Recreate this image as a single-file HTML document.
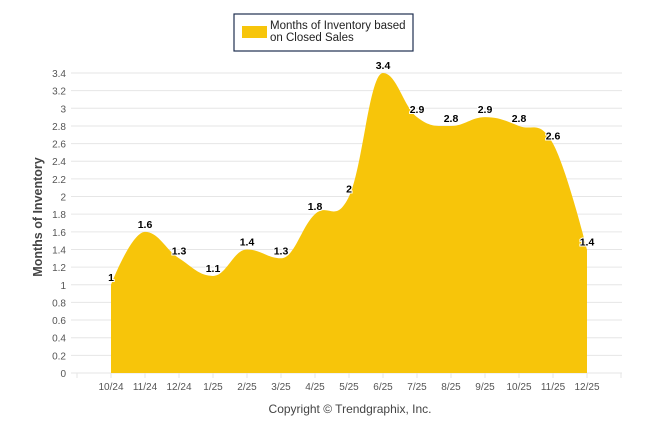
<!DOCTYPE html>
<html><head><meta charset="utf-8"><style>
body{margin:0;background:#fff;width:646px;height:434px;overflow:hidden;font-family:"Liberation Sans",sans-serif}
</style></head><body>
<svg width="646" height="434" id="c" font-family="Liberation Sans, sans-serif">
<rect x="234" y="14" width="179" height="37" fill="#fff" stroke="#1f2f4f" stroke-width="1.2"/>
<rect x="242" y="26" width="25" height="12" fill="#f7c50a"/>
<text x="270" y="29" font-size="11.5" fill="#222">Months of Inventory based</text>
<text x="270" y="41" font-size="11.5" fill="#222">on Closed Sales</text>
<text transform="translate(42,217) rotate(-90)" text-anchor="middle" font-size="12.5" font-weight="bold" fill="#444">Months of Inventory</text>
<text x="350" y="413" text-anchor="middle" font-size="12" fill="#444">Copyright © Trendgraphix, Inc.</text>
<g id="grid"></g><g id="area"></g><g id="labels"></g>
</svg>
<script>
const categories=["10/24","11/24","12/24","1/25","2/25","3/25","4/25","5/25","6/25","7/25","8/25","9/25","10/25","11/25","12/25"];
const values=[1,1.6,1.3,1.1,1.4,1.3,1.8,2,3.4,2.9,2.8,2.9,2.8,2.6,1.4];
const yTicks=[0,0.2,0.4,0.6,0.8,1,1.2,1.4,1.6,1.8,2,2.2,2.4,2.6,2.8,3,3.2,3.4];
const NS="http://www.w3.org/2000/svg";
const X=i=>111+34*i, Y=v=>373-v*(300/3.4);
function mk(t,a,p){const e=document.createElementNS(NS,t);for(const k in a)e.setAttribute(k,a[k]);p.appendChild(e);return e;}
const g=document.getElementById('grid');
yTicks.forEach(v=>{
 const l=mk('line',{x1:71,x2:622,y1:Y(v),y2:Y(v),stroke:'#e6e6e6'},g);
 
 
 const t=mk('text',{x:66,y:Y(v)+4,'text-anchor':'end','font-size':'10',fill:'#555'},g);t.textContent=v;
 
 
});
for(let i=-1;i<=categories.length;i++){
 const tk=mk('line',{x1:X(i),x2:X(i),y1:373,y2:378,stroke:'#e6e6e6'},g);
 
 
}
categories.forEach((c,i)=>{
 const t=mk('text',{x:X(i),y:390,'text-anchor':'middle','font-size':'10',fill:'#555'},g);t.textContent=c;
 
 
});
const pts=values.map((v,i)=>[X(i),Y(v)]);
const h=34/2.5;
const C=pts.map((p,i)=>{
 if(i===0||i===pts.length-1)return [p,p];
 const [lx,ly]=pts[i-1],[nx,ny]=pts[i+1],[x,y]=p;
 let s=(ny-ly)/(nx-lx);
 if((y<ly&&y<ny)||(y>ly&&y>ny))s=0;
 return [[x-h,y-h*s],[x+h,y+h*s]];
});
let d=`M${pts[0][0]},${pts[0][1]}`;
for(let i=1;i<pts.length;i++){
 const a=C[i-1][1],b=C[i][0];
 d+=` C${a[0]},${a[1]} ${b[0]},${b[1]} ${pts[i][0]},${pts[i][1]}`;
}
const ar=mk('path',{d:d+` L${X(values.length-1)},373 L${X(0)},373 Z`,fill:'#f7c50a'},document.getElementById('area'));


const lg=document.getElementById('labels');
values.forEach((v,i)=>{
 const t=mk('text',{x:X(i),y:Y(v)-4,'text-anchor':'middle','font-size':'10.5','font-weight':'bold',fill:'#000',stroke:'#fff','stroke-width':'2','paint-order':'stroke'},lg);t.textContent=v;
 
 
});
</script>
</body></html>
